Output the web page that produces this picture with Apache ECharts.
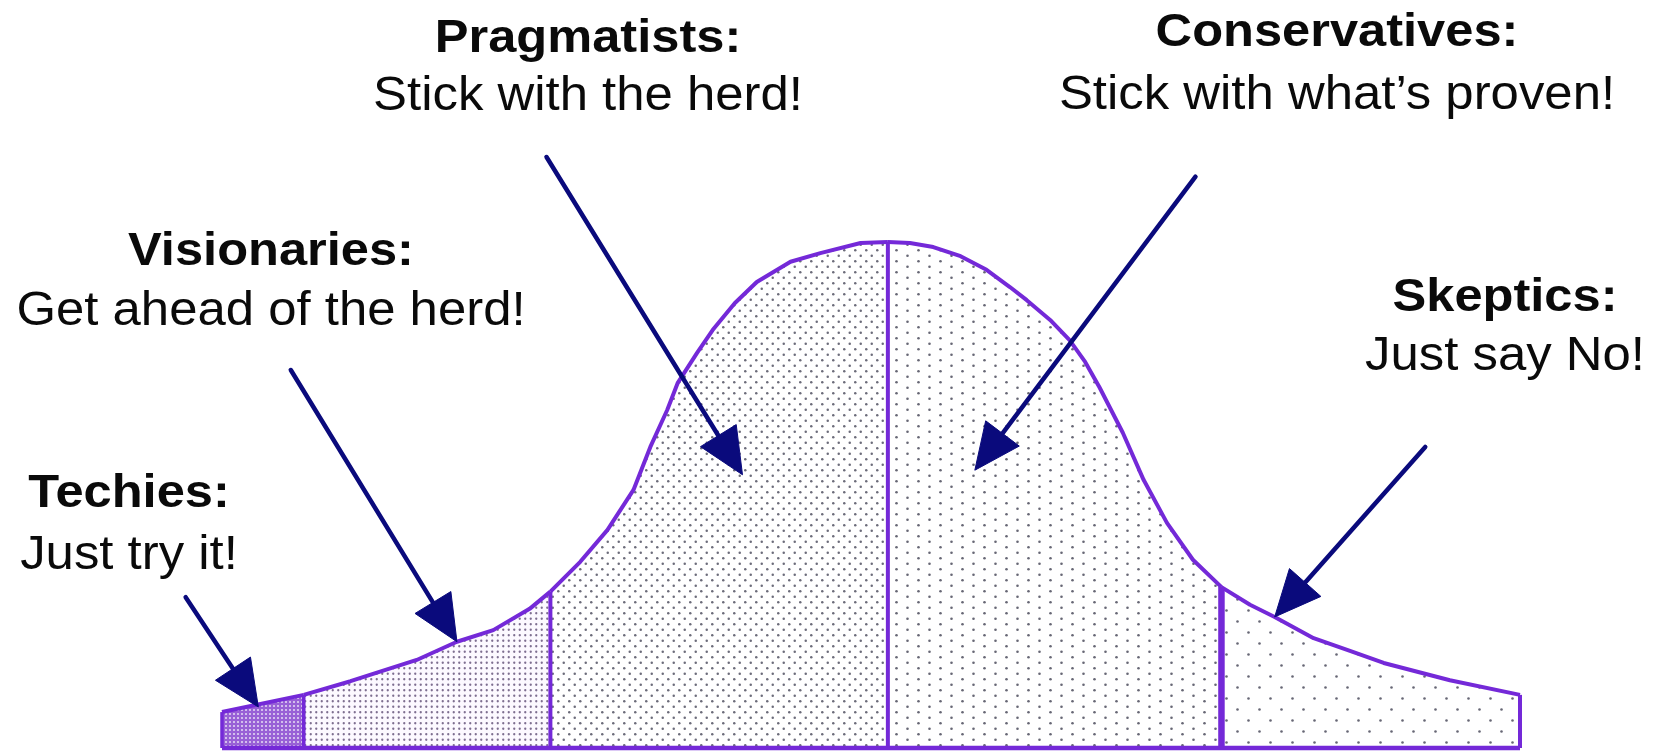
<!DOCTYPE html>
<html><head><meta charset="utf-8">
<script src="https://cdn.jsdelivr.net/npm/echarts@6/dist/echarts.min.js"></script>
<style>html,body{margin:0;padding:0;background:#fff}#c{width:1661px;height:751px}</style>
</head><body><div id="c"></div>
<script>
// ---------------- data ----------------
// x: position along the adoption timeline (0..100), y: relative share of population (0..100, peak = 100)
const segmentNames = ['Techies', 'Visionaries', 'Pragmatists', 'Conservatives', 'Skeptics'];
const headings = ['Techies:', 'Visionaries:', 'Pragmatists:', 'Conservatives:', 'Skeptics:'];
const mottos = ['Just try it!', 'Get ahead of the herd!', 'Stick with the herd!', 'Stick with what\u2019s proven!', 'Just say No!'];

const techiesCurve = [[0, 7.1], [6.3, 10.5]];
const visionariesCurve = [[6.3, 10.5], [9.9, 13.2], [15.0, 17.4], [18.1, 21.0], [20.9, 23.3], [23.7, 27.5], [25.3, 30.9]];
const pragmatistsCurve = [[25.3, 30.9], [27.6, 36.8], [29.7, 43.1], [31.7, 51.0], [33.0, 59.5], [34.3, 66.8], [35.1, 72.1], [36.6, 78.1], [37.8, 82.6], [39.5, 87.9], [41.2, 92.1], [43.8, 96.1], [46.1, 97.8], [49.2, 99.8], [51.3, 100]];
const conservativesCurve = [[51.3, 100], [53.0, 99.8], [54.8, 99.0], [56.9, 97.2], [58.9, 94.5], [60.7, 91.1], [62.0, 88.5], [63.8, 84.6], [65.3, 80.6], [66.5, 76.3], [67.6, 71.3], [69.4, 62.3], [71.0, 53.0], [72.8, 44.5], [74.8, 37.2], [77.0, 31.8]];
const skepticsCurve = [[77.0, 31.8], [79.2, 28.3], [81.1, 25.9], [84.1, 21.7], [86.9, 19.2], [89.5, 16.8], [94.6, 13.4], [100, 10.5]];

// arrow tails and tips, in the same data units
const arrowFrom = [[-2.8, 29.8], [5.3, 74.7], [25.0, 116.8], [75.0, 112.9], [92.7, 59.5]];
const arrowTo = [[2.8, 8.1], [18.1, 21.0], [40.1, 54.0], [58.0, 54.9], [81.1, 25.9]];

// ---------------- styling / layout ----------------
const PURPLE = '#7429d8';
const NAVY = '#0a0a7c';
const FONT = '"Liberation Sans", Arial, sans-serif';

function dotPattern(w, h, pts, r, dot, bg) {
  const c = document.createElement('canvas');
  c.width = w; c.height = h;
  const g = c.getContext('2d');
  g.fillStyle = bg; g.fillRect(0, 0, w, h);
  g.fillStyle = dot;
  pts.forEach(p => {
    [[0,0],[w,0],[0,h],[w,h],[-w,0],[0,-h],[-w,-h],[w,-h],[-w,h]].forEach(o => {
      g.beginPath(); g.arc(p[0] + o[0], p[1] + o[1], r, 0, Math.PI * 2); g.fill();
    });
  });
  return { image: c, repeat: 'repeat' };
}
const patterns = [
  dotPattern(4, 4, [[2, 2]], 1.0, '#e6dcf4', '#9860d6'),
  dotPattern(11, 11, [[2.75, 2.75], [8.25, 2.75], [2.75, 8.25], [8.25, 8.25]], 1.15, '#7d6e90', '#fcf9ff'),
  dotPattern(11, 11, [[2.75, 2.75], [8.25, 8.25]], 1.25, '#6c6c7a', '#ffffff'),
  dotPattern(22, 11, [[5.5, 2.75], [16.5, 8.25]], 1.3, '#676775', '#ffffff'),
  dotPattern(22, 22, [[5.5, 5.5], [16.5, 16.5]], 1.3, '#676775', '#ffffff')
];
const curves = [techiesCurve, visionariesCurve, pragmatistsCurve, conservativesCurve, skepticsCurve];
const boundaries = curves.map(c => c[0]).concat([skepticsCurve[skepticsCurve.length - 1]]);
const dividerWidths = [3.5, 3.5, 4, 4, 6.5, 4];

const textLayout = [
  { cx: 129, h: 510, m: 572 },
  { cx: 271, h: 268, m: 328 },
  { cx: 588, h: 55, m: 113 },
  { cx: 1337, h: 49, m: 112 },
  { cx: 1505, h: 314, m: 373 }
];
const BOLD_FS = 46, REG_FS = 48;
const graphics = [];
textLayout.forEach((t, i) => {
  graphics.push({ type: 'text', x: t.cx, y: t.h - 0.3465 * BOLD_FS, scaleX: 1.1, z: 100,
    style: { text: headings[i], fontSize: BOLD_FS, fontWeight: 'bold', fontFamily: FONT, fill: '#0a0a0a', align: 'center', verticalAlign: 'middle' } });
  graphics.push({ type: 'text', x: t.cx, y: t.m - 0.3465 * REG_FS, scaleX: 1.06, z: 100,
    style: { text: mottos[i], fontSize: REG_FS, fontFamily: FONT, fill: '#0a0a0a', align: 'center', verticalAlign: 'middle' } });
});

const series = curves.map((c, i) => ({
  name: segmentNames[i], type: 'line', data: c, symbol: 'none', clip: false, z: 2,
  lineStyle: { color: PURPLE, width: 4, join: 'round' },
  areaStyle: { color: patterns[i], opacity: 1 }
}));
series.push({
  name: 'baseline', type: 'line', data: [[0, 0], [100, 0]], symbol: 'none', clip: false, z: 3,
  lineStyle: { color: PURPLE, width: 4.5 }
});
series.push({
  name: 'dividers', type: 'custom', z: 3, clip: false,
  data: boundaries,
  renderItem: (params, api) => {
    const top = api.coord([api.value(0), api.value(1)]);
    const bot = api.coord([api.value(0), 0]);
    return { type: 'line', shape: { x1: top[0], y1: top[1], x2: bot[0], y2: bot[1] },
      style: { stroke: PURPLE, lineWidth: dividerWidths[params.dataIndex] } };
  }
});
series.push({
  name: 'arrows', type: 'custom', z: 5, clip: false,
  data: arrowFrom.map((f, i) => [f[0], f[1], arrowTo[i][0], arrowTo[i][1]]),
  encode: { x: [0, 2], y: [1, 3] },
  renderItem: (params, api) => {
    const s = api.coord([api.value(0), api.value(1)]);
    const t = api.coord([api.value(2), api.value(3)]);
    const dx = t[0] - s[0], dy = t[1] - s[1];
    const L = Math.hypot(dx, dy), ux = dx / L, uy = dy / L;
    const HL = 46, HW = 21;
    const b = [t[0] - ux * HL, t[1] - uy * HL];
    return { type: 'group', children: [
      { type: 'line', shape: { x1: s[0], y1: s[1], x2: b[0] + ux * 4, y2: b[1] + uy * 4 }, style: { stroke: NAVY, lineWidth: 4.5, lineCap: 'round' } },
      { type: 'polygon', shape: { points: [t, [b[0] - uy * HW, b[1] + ux * HW], [b[0] + uy * HW, b[1] - ux * HW]] }, style: { fill: NAVY, stroke: NAVY, lineWidth: 1, lineJoin: 'round' } }
    ] };
  }
});

const chart = echarts.init(document.getElementById('c'), null, { renderer: 'canvas' });
chart.setOption({
  animation: false,
  backgroundColor: '#ffffff',
  grid: { left: 222, right: 141, top: 242, bottom: 3 },
  xAxis: { type: 'value', min: 0, max: 100, show: false },
  yAxis: { type: 'value', min: 0, max: 100, show: false },
  graphic: graphics,
  series: series
});
</script></body></html>
